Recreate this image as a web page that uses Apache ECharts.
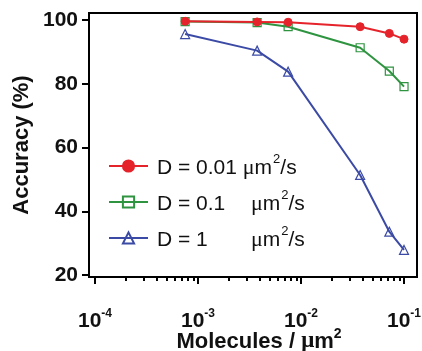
<!DOCTYPE html>
<html>
<head>
<meta charset="utf-8">
<script src="https://cdn.jsdelivr.net/npm/echarts@6/dist/echarts.min.js"></script>
<style>
  html, body { margin: 0; padding: 0; background: #fff; }
  #chart { width: 422px; height: 351px; }
</style>
</head>
<body>
<div id="chart"></div>
<script>
// Molecule density (molecules / um^2) and detection accuracy (%) per diffusion coefficient
const molecules = [0.00075, 0.00375, 0.0075, 0.0375, 0.072, 0.1];
const accD001 = [99.6, 99.4, 99.3, 97.9, 95.8, 94.0];
const accD01 = [99.5, 99.2, 97.9, 91.3, 84.0, 79.1];
const accD1 = [95.6, 90.4, 83.8, 51.4, 33.6, 27.9];

const seriesNames = ['D = 0.01', 'D = 0.1', 'D = 1'];
const xDecades = [-4, -3, -2, -1];      // major ticks: 10^n
const yTicks = [20, 40, 60, 80, 100];

// x is drawn on a log10 scale
const xMin = -4.058, xMax = -0.874;
const minorTicks = [];
for (let n = -4; n <= -2; n++) {
  for (let k = 2; k <= 9; k++) minorTicks.push(Math.log10(k) + n);
}

const RED = '#e5232b', GREEN = '#2e9440', BLUE = '#3b4aa5';
const FONT = 'Liberation Sans';

function toPoints(vals) {
  return molecules.map((m, i) => [Math.log10(m), vals[i]]);
}

const chart = echarts.init(document.getElementById('chart'), null, { renderer: 'canvas' });

const supRich = {
  a: { fontFamily: FONT, fontSize: 21, color: '#111', lineHeight: 26, verticalAlign: 'bottom' },
  w: { fontFamily: FONT, fontSize: 21, color: '#111', lineHeight: 26, verticalAlign: 'bottom', width: 94 },
  mu: { fontFamily: 'Liberation Serif', fontSize: 22, color: '#111', lineHeight: 26, verticalAlign: 'bottom' },
  s: { fontFamily: FONT, fontSize: 13, color: '#111', lineHeight: 26, verticalAlign: 'top', padding: [0, 0, 0, 1] }
};

chart.setOption({
  animation: false,
  backgroundColor: '#fff',
  grid: {
    left: 89, right: 5, top: 13, bottom: 74,
    containLabel: false, outerBoundsMode: 'none',
    show: true, borderColor: '#000', borderWidth: 2, backgroundColor: 'transparent'
  },
  legend: {
    left: 108,
    top: 153,
    padding: 0,
    orient: 'vertical',
    itemWidth: 39,
    itemHeight: 14,
    itemGap: 10,
    data: seriesNames,
    formatter: function (name) {
      if (name === 'D = 0.01') return '{a|D = 0.01 }{mu|μ}{a|m}{s|2}{a|/s}';
      return '{w|' + name + '}{mu|μ}{a|m}{s|2}{a|/s}';
    },
    textStyle: { padding: [0, 0, 0, 4], rich: supRich }
  },
  xAxis: [
    {
      type: 'value',
      min: xMin,
      max: xMax,
      position: 'bottom',
      splitLine: { show: false },
      axisLine: { show: true, onZero: false, lineStyle: { color: '#000', width: 2 } },
      axisTick: { show: true, inside: false, length: 7, customValues: xDecades, lineStyle: { color: '#000', width: 2 } },
      axisLabel: {
        customValues: xDecades,
        margin: 31,
        formatter: function (v) { return '{b|10}{e|' + v + '}'; },
        rich: {
          b: { fontFamily: FONT, fontWeight: 'bold', fontSize: 21, color: '#111', lineHeight: 24, verticalAlign: 'bottom' },
          e: { fontFamily: FONT, fontWeight: 'bold', fontSize: 12, color: '#111', lineHeight: 24, verticalAlign: 'top' }
        }
      },
      name: '{t|Molecules / }{mu|μ}{t|m}{s|2}',
      nameLocation: 'middle',
      nameGap: 50,
      nameMoveOverlap: false,
      nameTextStyle: {
        padding: [0, 0, 0, 12],
        rich: {
          t: { fontFamily: FONT, fontWeight: 'bold', fontSize: 22, color: '#111', lineHeight: 26, verticalAlign: 'bottom' },
          mu: { fontFamily: 'Liberation Serif', fontWeight: 'bold', fontSize: 23, color: '#111', lineHeight: 26, verticalAlign: 'bottom' },
          s: { fontFamily: FONT, fontWeight: 'bold', fontSize: 14, color: '#111', lineHeight: 26, verticalAlign: 'top' }
        }
      }
    },
    {
      // minor log ticks on the same bottom edge
      type: 'value',
      min: xMin,
      max: xMax,
      position: 'bottom',
      offset: 0,
      splitLine: { show: false },
      axisLine: { show: true, onZero: false, lineStyle: { color: '#000', width: 2 } },
      axisLabel: { show: false },
      axisTick: { show: true, inside: false, length: 4, customValues: minorTicks, lineStyle: { color: '#000', width: 2 } }
    }
  ],
  yAxis: {
    type: 'value',
    min: 19.4,
    max: 102.2,
    splitLine: { show: false },
    axisLine: { show: true, onZero: false, lineStyle: { color: '#000', width: 2 } },
    axisTick: { show: true, inside: false, length: 7, customValues: yTicks, lineStyle: { color: '#000', width: 2 } },
    axisLabel: {
      customValues: yTicks,
      margin: 11,
      fontFamily: FONT,
      fontWeight: 'bold',
      fontSize: 21,
      color: '#111'
    },
    name: 'Accuracy (%)',
    nameLocation: 'middle',
    nameGap: 56,
    nameMoveOverlap: false,
    nameTextStyle: { fontFamily: FONT, fontWeight: 'bold', fontSize: 22, color: '#111' }
  },
  series: [
    {
      name: seriesNames[0],
      type: 'line',
      xAxisIndex: 0,
      data: toPoints(accD001),
      symbol: 'circle',
      symbolSize: 8,
      lineStyle: { color: RED, width: 2 },
      itemStyle: { color: RED, borderColor: RED, borderWidth: 1 },
      z: 4
    },
    {
      name: seriesNames[1],
      type: 'line',
      xAxisIndex: 0,
      data: toPoints(accD01),
      symbol: 'rect',
      symbolSize: 8,
      lineStyle: { color: GREEN, width: 2 },
      itemStyle: { color: 'rgba(255,255,255,0)', borderColor: GREEN, borderWidth: 1.2 },
      z: 3
    },
    {
      name: seriesNames[2],
      type: 'line',
      xAxisIndex: 1,
      data: toPoints(accD1),
      symbol: 'triangle',
      symbolSize: 9,
      lineStyle: { color: BLUE, width: 2 },
      itemStyle: { color: 'rgba(255,255,255,0)', borderColor: BLUE, borderWidth: 1.2 },
      z: 2
    }
  ]
});
</script>
</body>
</html>
